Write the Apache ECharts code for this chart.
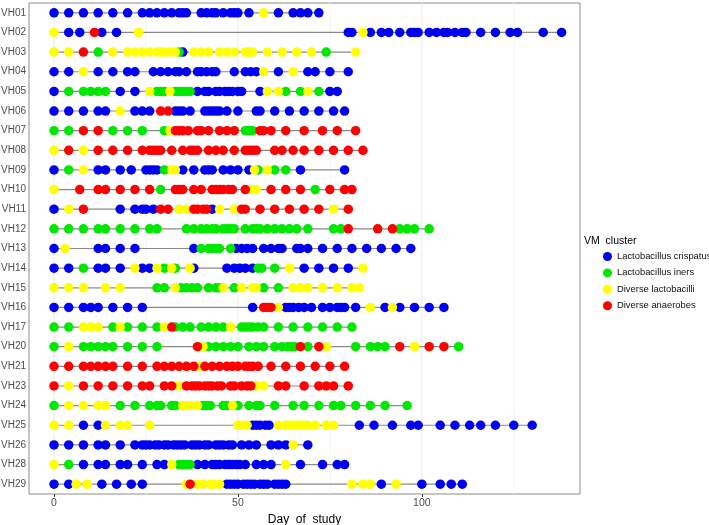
<!DOCTYPE html>
<html><head><meta charset="utf-8">
<script src="https://cdn.jsdelivr.net/npm/echarts@6/dist/echarts.min.js"></script>
<style>html,body{margin:0;padding:0;background:#fff}#c{width:709px;height:525px}</style>
</head><body><div id="c"></div>
<script>
const B='Lactobacillus crispatus', G='Lactobacillus iners', Y='Diverse lactobacilli', R='Diverse anaerobes';
const clusters=[B,G,Y,R];
const clusterColors=['#0000F0','#00E800','#FFFF00','#FF0000'];
const subjects=['VH01','VH02','VH03','VH04','VH05','VH06','VH07','VH08','VH09','VH10','VH11','VH12','VH13','VH14','VH15','VH16','VH17','VH20','VH21','VH23','VH24','VH25','VH26','VH28','VH29'];
const xTicks=[0,50,100];
const gridMajor=[0,50,100];
const gridMinor=[25,75,125];

const VH01=[[0,B],[4,B],[8,B],[12,B],[16,B],[20,B],[24,B],[26,B],[28,B],[30,B],[32,B],[34,B],[35,B],[36,B],[40,B],[41.5,B],[43,B],[44,B],[46,B],[48,B],[49,B],[50,B],[53,B],[57,Y],[61,B],[65,B],[67,B],[69,B],[72,B]];
const VH02=[[0,Y],[4,B],[7,B],[11,R],[13,B],[17,B],[23,Y],[80,B],[81,B],[84,Y],[86,B],[89,B],[91,B],[94,B],[97,B],[98,B],[99,B],[102,B],[104,B],[106,B],[107,B],[109,B],[111,B],[112,B],[116,B],[120,B],[124,B],[126,B],[133,B],[138,B]];
const VH03=[[0,Y],[4,Y],[8,R],[12,G],[16,Y],[20,Y],[22,Y],[24,Y],[26,Y],[28,Y],[29,Y],[30,Y],[31.5,Y],[33,Y],[34,G],[35,B],[38,Y],[40,Y],[42,Y],[45,Y],[47,Y],[49,Y],[52,Y],[53,Y],[54,Y],[58,Y],[62,Y],[66,Y],[70,Y],[74,G],[82,Y]];
const VH04=[[0,B],[4,B],[8,Y],[12,B],[16,B],[20,B],[22,B],[27,B],[29,B],[31,B],[33,B],[34,B],[36,B],[39,B],[40,B],[41.5,B],[43,B],[44,B],[49,B],[52,B],[53.5,B],[55,B],[57,Y],[61,B],[65,Y],[69,B],[71,B],[75,B],[80,B]];
const VH05=[[0,B],[4,G],[8,G],[10,G],[12,G],[14,G],[18,B],[22,B],[26,Y],[28,G],[29,G],[30,G],[31.5,Y],[33,G],[34,G],[35,G],[36,G],[37,G],[39,B],[41,B],[42,B],[44,B],[45,B],[46.5,B],[47.5,B],[48.5,B],[50,B],[51,B],[56,B],[58,Y],[61,Y],[63,G],[67,G],[69,Y],[72,G],[75,B],[77,B]];
const VH06=[[0,B],[4,B],[8,B],[12,B],[14,B],[18,Y],[22,B],[24,B],[26,B],[29,R],[31,R],[33,B],[34,B],[35,B],[37,B],[41,B],[42,B],[43,B],[44,B],[45,B],[47,B],[50,B],[55,B],[56,B],[60,B],[64,B],[68,B],[72,B],[76,B],[79,B]];
const VH07=[[0,G],[4,G],[8,R],[12,R],[16,G],[20,G],[24,G],[30,G],[31.5,Y],[33,R],[34,R],[35,R],[36.5,R],[39,R],[40,R],[42,R],[45,R],[47,R],[49,R],[52,G],[53,G],[54,G],[56,R],[57,R],[59,R],[63,R],[68,R],[73,R],[77,R],[82,R]];
const VH08=[[0,Y],[4,R],[8,Y],[12,R],[16,R],[20,R],[24,R],[26,R],[27,R],[28,R],[29,R],[32,R],[35,R],[37,R],[38,R],[39,R],[42,R],[44,R],[46,R],[49,R],[52,R],[53,R],[54,R],[55,R],[60,R],[62,R],[65,R],[68,R],[72,R],[76,R],[80,R],[84,R]];
const VH09=[[0,B],[4,G],[8,Y],[12,B],[14,B],[18,B],[21,B],[25,B],[26,B],[27,B],[28,B],[30,G],[32,Y],[33,Y],[35,B],[38,B],[41,B],[42,B],[43,B],[46,B],[48,B],[50,B],[53,B],[54.5,Y],[55.5,G],[58,Y],[60,G],[63,G],[67,B],[79,B]];
const VH10=[[0,Y],[7,R],[12,R],[14,R],[18,R],[22,R],[26,R],[29,G],[33,R],[34,R],[35,R],[38,R],[40,R],[43,R],[44,R],[45,R],[46,R],[47.5,R],[48.5,R],[52,R],[53.5,Y],[55,Y],[59,R],[63,R],[67,R],[71,G],[75,R],[79,R],[81,R]];
const VH11=[[0,B],[4,Y],[8,R],[18,B],[22,B],[24,B],[25,B],[27,B],[29,R],[31,R],[34,Y],[36,Y],[38,R],[39,R],[40.5,R],[41.5,R],[43,B],[45,Y],[49,Y],[51,R],[52,R],[56,R],[60,R],[64,R],[68,R],[72,R],[76,Y],[80,R]];
const VH12=[[0,G],[4,G],[8,G],[12,G],[14,G],[18,G],[22,G],[26,G],[28,G],[36,G],[38,G],[40,G],[41.5,G],[43,G],[44,G],[46,G],[47,G],[48,G],[49,G],[52,G],[54,G],[55,G],[56,G],[58,G],[60,G],[62,G],[64,G],[66,G],[69,G],[76,G],[78,G],[80,R],[88,R],[92,R],[94,G],[96,G],[98,G],[102,G]];
const VH13=[[0,B],[3,Y],[12,B],[14,B],[18,B],[22,B],[38,B],[40,G],[42,G],[43,G],[44,G],[45,G],[48,G],[49.5,B],[51,B],[52.5,B],[54,B],[57,B],[59,B],[61,B],[62,B],[66,B],[67,B],[69,B],[73,B],[77,B],[81,B],[85,B],[89,B],[93,B],[97,B]];
const VH14=[[0,B],[4,B],[8,G],[12,B],[14,B],[18,B],[22,Y],[24,B],[26,B],[28,Y],[30,G],[32,Y],[33,G],[37,Y],[38,B],[47,B],[49,B],[50.5,B],[52,B],[54,B],[55.5,G],[56.5,G],[60,G],[64,Y],[68,B],[72,B],[76,B],[80,B],[84,Y]];
const VH15=[[0,Y],[4,Y],[8,Y],[14,Y],[18,Y],[28,G],[30,G],[33,Y],[34.5,G],[36,G],[37.5,G],[39,G],[42,G],[44,G],[45,G],[46,Y],[49,G],[51,Y],[54,Y],[55,Y],[57,G],[61,G],[65,Y],[67,Y],[69,Y],[73,Y],[77,Y],[81,Y],[83,Y]];
const VH16=[[0,B],[4,B],[8,B],[10,B],[12,B],[16,B],[20,B],[24,B],[54,B],[57,R],[58,R],[59,R],[61,Y],[63,B],[64,B],[65,B],[66.5,B],[68,B],[70,B],[73,B],[75,B],[77,B],[78,B],[79,B],[82,B],[86,Y],[90,B],[92,Y],[94,B],[98,B],[102,B],[106,B]];
const VH17=[[0,G],[4,G],[8,Y],[10,Y],[12,Y],[16,G],[18,Y],[20,G],[24,G],[28,G],[30,Y],[32,R],[33,G],[35,G],[37,G],[40,G],[42,G],[44,G],[46,G],[48,Y],[51,G],[52,G],[53,G],[54,G],[55.5,G],[57,G],[61,G],[65,G],[69,G],[73,G],[77,G],[81,G]];
const VH20=[[0,G],[4,Y],[8,G],[10,G],[12,G],[14,G],[16,G],[20,G],[24,G],[28,G],[39,R],[40.5,Y],[42,G],[44,G],[46,G],[48,G],[50,G],[53,G],[55,G],[57,G],[60,G],[62,G],[63.5,G],[64.5,G],[65.5,G],[67,R],[69,G],[72,R],[74,Y],[82,G],[86,G],[88,G],[90,G],[94,R],[98,Y],[102,R],[106,R],[110,G]];
const VH21=[[0,R],[4,R],[8,R],[10,R],[12,R],[14,R],[16,R],[20,R],[24,R],[28,R],[30,R],[32,R],[34,R],[36,R],[38,R],[39.5,Y],[41,R],[43,R],[45,R],[47,R],[48.5,R],[50,R],[52,R],[53,R],[54,R],[55.5,R],[59,R],[63,R],[67,R],[71,R],[75,R],[79,R]];
const VH23=[[0,R],[4,Y],[8,R],[12,R],[16,R],[20,R],[24,R],[26,R],[30,R],[32,R],[34,Y],[36,R],[37.5,R],[38.5,R],[39.5,R],[41,R],[42,R],[43,R],[44.5,R],[45.5,R],[48,R],[49,R],[51,R],[52.5,R],[53.5,R],[55,Y],[57,Y],[61,R],[63,R],[68,R],[72,R],[74,R],[76,R],[80,R]];
const VH24=[[0,G],[4,Y],[8,Y],[12,Y],[14,Y],[18,G],[22,G],[26,G],[28,G],[29,G],[32,G],[33,G],[35,Y],[36,Y],[37,Y],[39,Y],[40.5,G],[41.5,G],[42.5,G],[46,G],[47,G],[48.5,Y],[50,G],[53,G],[55,G],[56,G],[60,G],[65,G],[68,G],[72,G],[76,G],[78,G],[82,G],[86,G],[90,G],[96,G]];
const VH25=[[0,Y],[4,Y],[8,B],[12,B],[14,Y],[18,Y],[20,Y],[26,Y],[50,Y],[51,Y],[52.5,Y],[54,B],[55,B],[56,B],[57.5,B],[58.5,B],[61,Y],[63,Y],[64,Y],[65,Y],[66,Y],[67,Y],[68,Y],[69,Y],[71,Y],[74,Y],[76,Y],[83,B],[87,B],[92,B],[97,B],[99,B],[105,B],[109,B],[113,B],[116,B],[120,B],[125,B],[130,B]];
const VH26=[[0,B],[4,B],[8,B],[12,B],[14,B],[18,B],[22,B],[24,B],[25,B],[26,B],[27.5,B],[28.5,B],[30,B],[31,B],[32.5,B],[33.5,B],[34.5,B],[35.5,B],[37.5,B],[38.5,B],[39.5,B],[41,B],[42,B],[44,B],[45,B],[46,B],[47.5,B],[48.5,B],[51,B],[53,B],[55,B],[59,B],[61,B],[63,B],[65,Y],[69,B]];
const VH28=[[0,Y],[4,G],[8,B],[12,B],[14,B],[18,B],[20,B],[24,B],[28,B],[30,B],[32,Y],[34,G],[35,G],[36,G],[37,G],[39,B],[41,B],[43,B],[44,B],[45,B],[46.5,B],[47.5,B],[48.5,B],[49.5,B],[50.5,B],[52,B],[55,B],[57,B],[59,B],[63,Y],[67,B],[73,B],[77,B],[79,B]];
const VH29=[[0,B],[4,B],[6,Y],[9,Y],[13,B],[17,B],[21,B],[24,B],[36,Y],[37,R],[39,Y],[40.5,Y],[42.5,Y],[43.5,Y],[45,Y],[47,B],[48,B],[49,B],[50,B],[51.5,B],[52.5,B],[53.5,B],[54.5,B],[56,B],[57,B],[58,B],[60,B],[61,B],[62,B],[63,B],[81,Y],[84,Y],[86,Y],[89,B],[93,Y],[100,B],[105,B],[108,B],[111,B]];

const visitsBySubject={VH01,VH02,VH03,VH04,VH05,VH06,VH07,VH08,VH09,VH10,VH11,VH12,VH13,VH14,VH15,VH16,VH17,VH20,VH21,VH23,VH24,VH25,VH26,VH28,VH29};

const FONT='"Liberation Sans", Arial, sans-serif';
const series=[];
// vertical grid lines drawn on a hidden 0..1 value axis spanning the panel
gridMajor.forEach(d=>series.push({type:'line',yAxisIndex:1,data:[[d,0],[d,1]],symbol:'none',silent:true,z:0,
  lineStyle:{color:'#EBEBEB',width:1},animation:false}));
gridMinor.forEach(d=>series.push({type:'line',yAxisIndex:1,data:[[d,0],[d,1]],symbol:'none',silent:true,z:0,
  lineStyle:{color:'#F5F5F5',width:1},animation:false}));
// connecting lines
subjects.forEach(s=>{
  const pts=visitsBySubject[s].map(v=>[v[0],s]).sort((a,b)=>a[0]-b[0]);
  series.push({type:'line',data:pts,symbol:'none',silent:true,z:1,
    lineStyle:{color:'#8A8A8A',width:1.2},animation:false});
});
// points
clusters.forEach((c,i)=>{
  const data=[];
  subjects.forEach(s=>visitsBySubject[s].forEach(v=>{if(v[1]===c)data.push([v[0],s]);}));
  series.push({type:'scatter',name:c,data,symbol:'circle',symbolSize:9.5,z:3,
    itemStyle:{color:clusterColors[i],opacity:1},animation:false});
});

const chart=echarts.init(document.getElementById('c'),null,{renderer:'canvas'});
chart.setOption({
  animation:false,
  backgroundColor:'#fff',
  textStyle:{fontFamily:FONT},
  grid:{left:29,right:129,top:3,bottom:31,outerBoundsMode:'none',containLabel:false,show:true,borderColor:'#8c8c8c',borderWidth:1,backgroundColor:'#fff'},
  title:{text:'VM  cluster',left:584,top:236,padding:0,textStyle:{fontSize:10.5,fontWeight:'normal',color:'#000',fontFamily:FONT}},
  legend:{data:clusters,orient:'vertical',left:603,top:252,padding:0,icon:'circle',itemWidth:9,itemHeight:9,itemGap:7.4,
    textStyle:{fontSize:9.4,color:'#111',fontFamily:FONT}},
  xAxis:{type:'value',min:-6.8,max:143,
    axisLine:{show:false},splitLine:{show:false},
    axisTick:{show:true,customValues:xTicks,length:3,lineStyle:{color:'#333'}},
    axisLabel:{customValues:xTicks,fontSize:10.5,color:'#4d4d4d',margin:4,fontFamily:FONT},
    name:'Day  of  study',nameLocation:'middle',nameGap:13,
    nameTextStyle:{fontSize:12,color:'#000',fontFamily:FONT}},
  yAxis:[{type:'category',data:subjects,inverse:true,
    axisLine:{show:false},splitLine:{show:false},
    axisTick:{show:true,alignWithLabel:true,length:3,lineStyle:{color:'#333'}},
    axisLabel:{fontSize:10,color:'#4d4d4d',margin:3,fontFamily:FONT}},
    {type:'value',min:0,max:1,show:false}],
  series
});
</script></body></html>
